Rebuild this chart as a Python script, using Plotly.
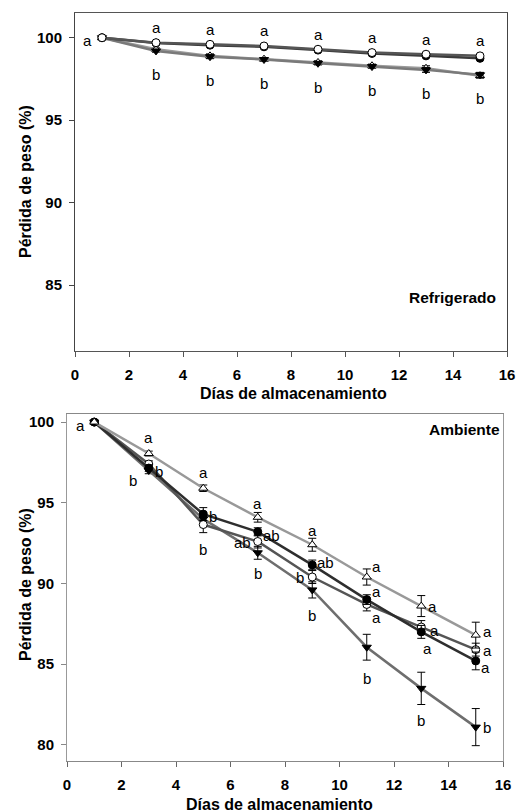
import plotly.graph_objects as go

days = [1, 3, 5, 7, 9, 11, 13, 15]

# ---- Refrigerado (top panel) ----
ref_open_circle = [100, 99.7, 99.6, 99.5, 99.3, 99.1, 99.0, 98.9]
ref_filled_circle = [100, 99.68, 99.55, 99.45, 99.25, 99.05, 98.9, 98.75]
ref_open_tri = [100, 99.3, 98.9, 98.7, 98.5, 98.3, 98.15, 97.7]
ref_down_tri = [100, 99.2, 98.85, 98.68, 98.45, 98.25, 98.05, 97.75]
ref_err_circle = [0, 0.05, 0.05, 0.05, 0.05, 0.05, 0.05, 0.08]
ref_err_tri = [0, 0.08, 0.12, 0.08, 0.1, 0.1, 0.15, 0.15]
ref_letters_a = ["a", "a", "a", "a", "a", "a", "a", "a"]
ref_letters_b = ["", "b", "b", "b", "b", "b", "b", "b"]

# ---- Ambiente (bottom panel) ----
amb_open_tri = [100, 98.05, 95.9, 94.1, 92.4, 90.4, 88.6, 86.8]
amb_filled_circle = [100, 97.15, 94.3, 93.2, 91.15, 89.0, 87.0, 85.2]
amb_open_circle = [100, 97.4, 93.65, 92.6, 90.4, 88.7, 87.3, 85.9]
amb_down_tri = [100, 97.0, 94.0, 91.9, 89.6, 86.05, 83.5, 81.1]
amb_err_open_tri = [0, 0.15, 0.2, 0.3, 0.4, 0.5, 0.65, 0.8]
amb_err_filled_circle = [0, 0.2, 0.4, 0.25, 0.3, 0.3, 0.4, 0.55]
amb_err_open_circle = [0, 0.2, 0.5, 0.4, 0.4, 0.4, 0.4, 0.4]
amb_err_down_tri = [0, 0.2, 0.4, 0.4, 0.5, 0.8, 1.0, 1.15]
amb_letters_open_tri = ["a", "a", "a", "a", "a", "a", "a", "a"]
amb_letters_filled_circle = ["", "b", "b", "ab", "ab", "a", "a", "a"]
amb_letters_open_circle = ["", "b", "b", "ab", "b", "a", "a", "a"]
amb_letters_down_tri = ["", "", "", "b", "b", "b", "b", "b"]

x_ticks = [0, 2, 4, 6, 8, 10, 12, 14, 16]
y_ticks_ref = [85, 90, 95, 100]
y_ticks_amb = [80, 85, 90, 95, 100]

# label offsets (pixels) -- styling only
off_amb_open_tri = [(-14, -3), (0, 16), (0, 16), (0, 14), (0, 14), (10, 11), (11, 0), (12, 4)]
off_amb_filled_circle = [(0, 0), (10, -3), (10, -2), (14, -4), (13, 2), (10, 8), (6, -17), (10, -7)]
off_amb_open_circle = [(0, 0), (-16, -16), (0, -25), (-15, -1), (-12, 0), (10, -13), (13, -3), (12, -1)]
off_amb_down_tri = [(0, 0), (0, 0), (0, 0), (0, -21), (0, -26), (0, -31), (0, -32), (11, 0)]

FONT = "Liberation Sans, Arial, sans-serif"
W, H = 517, 812

fig = go.Figure()


def add_series(x, y, err, xa, ya, symbol, mcolor, lcolor, lw=2.5):
    fig.add_trace(go.Scatter(
        x=x, y=y, xaxis=xa, yaxis=ya, mode="lines+markers",
        line=dict(color=lcolor, width=lw),
        marker=dict(symbol=symbol, size=8, color=mcolor,
                    line=dict(color="black", width=1)),
        error_y=dict(type="data", array=err, visible=True,
                     color="black", thickness=1, width=4),
        showlegend=False, cliponaxis=False,
    ))


# top panel
add_series(days, ref_open_tri, ref_err_tri, "x", "y", "triangle-up", "white", "#9a9a9a")
add_series(days, ref_down_tri, ref_err_tri, "x", "y", "triangle-down", "black", "#7a7a7a")
add_series(days, ref_filled_circle, ref_err_circle, "x", "y", "circle", "black", "#3a3a3a")
add_series(days, ref_open_circle, ref_err_circle, "x", "y", "circle", "white", "#555555")

# bottom panel
add_series(days, amb_down_tri, amb_err_down_tri, "x2", "y2", "triangle-down", "black", "#6e6e6e")
add_series(days, amb_open_circle, amb_err_open_circle, "x2", "y2", "circle", "white", "#555555")
add_series(days, amb_filled_circle, amb_err_filled_circle, "x2", "y2", "circle", "black", "#2e2e2e")
add_series(days, amb_open_tri, amb_err_open_tri, "x2", "y2", "triangle-up", "white", "#999999")

annotations = []
lab_font = dict(family=FONT, size=15, color="black")

# top letters
for i, d in enumerate(days):
    if i == 0:
        annotations.append(dict(x=d, y=ref_open_circle[i], xref="x", yref="y", text=ref_letters_a[i],
                                showarrow=False, xshift=-15, yshift=-3, font=lab_font))
        continue
    annotations.append(dict(x=d, y=ref_open_circle[i], xref="x", yref="y", text=ref_letters_a[i],
                            showarrow=False, yshift=15, font=lab_font))
    annotations.append(dict(x=d, y=ref_down_tri[i], xref="x", yref="y", text=ref_letters_b[i],
                            showarrow=False, yshift=-24, font=lab_font))

# bottom letters
for vals, letters, offs in [
    (amb_open_tri, amb_letters_open_tri, off_amb_open_tri),
    (amb_filled_circle, amb_letters_filled_circle, off_amb_filled_circle),
    (amb_open_circle, amb_letters_open_circle, off_amb_open_circle),
    (amb_down_tri, amb_letters_down_tri, off_amb_down_tri),
]:
    for d, v, t, (dx, dy) in zip(days, vals, letters, offs):
        if t:
            annotations.append(dict(x=d, y=v, xref="x2", yref="y2", text=t, showarrow=False,
                                    xshift=dx, yshift=dy, font=lab_font))


def paper_text(text, px, py, angle=0, anchor="center", size=16):
    annotations.append(dict(x=px / W, y=1 - py / H, xref="paper", yref="paper", text=text,
                            showarrow=False, xanchor=anchor, yanchor="middle", textangle=angle,
                            font=dict(family=FONT, size=size, color="black", weight="bold")))


paper_text("Refrigerado", 498, 297, anchor="right", size=15.5)
paper_text("Ambiente", 502, 430, anchor="right", size=15.5)
paper_text("Pérdida de peso (%)", 25, 182, angle=-90)
paper_text("Pérdida de peso (%)", 25, 585, angle=-90)
paper_text("Días de almacenamiento", 293, 393)
paper_text("Días de almacenamiento", 279, 804)

tick_font = dict(family=FONT, size=15, color="black", weight="bold")

common_x = dict(range=[0, 16], tickvals=x_ticks, showline=True, mirror=True,
                ticks="outside", ticklen=5, tickwidth=1, showgrid=False, zeroline=False, automargin=False,
                tickfont=tick_font, ticklabelstandoff=5)
common_y = dict(showline=True, mirror=True, ticks="outside", ticklen=5, showgrid=False, zeroline=False,
                automargin=False, tickfont=tick_font, ticklabelstandoff=4)

fig.update_layout(
    width=W, height=H, paper_bgcolor="white", plot_bgcolor="white",
    margin=dict(l=0, r=0, t=0, b=0, autoexpand=False),
    xaxis=dict(domain=[75 / W, 507 / W], anchor="y", linecolor="#555555", tickcolor="#555555", **common_x),
    yaxis=dict(domain=[1 - 351 / H, 1 - 13 / H], anchor="x", range=[81, 101.5],
               tickvals=y_ticks_ref, linecolor="#444444", tickcolor="#444444", **common_y),
    xaxis2=dict(domain=[67 / W, 503 / W], anchor="y2", linecolor="#888888", tickcolor="#666666", **common_x),
    yaxis2=dict(domain=[1 - 761 / H, 1 - 414 / H], anchor="x2", range=[79, 100.5],
                tickvals=y_ticks_amb, linecolor="#999999", tickcolor="#888888", **common_y),
    annotations=annotations,
)

fig.write_html("out.html", config={"displayModeBar": False},
               post_script="document.body.style.margin='0px';")
